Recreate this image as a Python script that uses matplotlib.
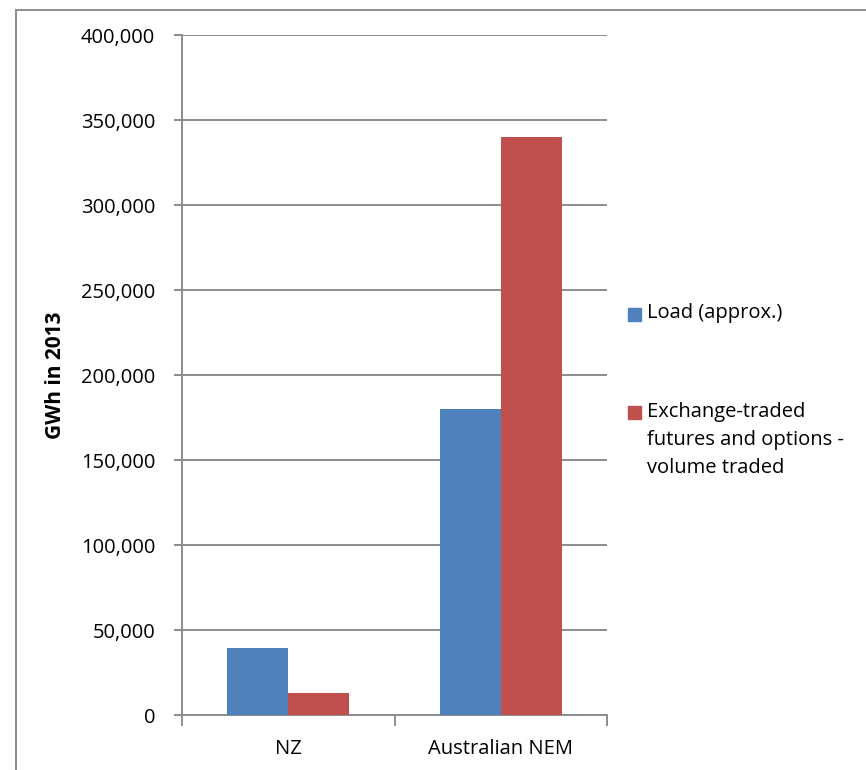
import matplotlib.pyplot as plt
from matplotlib.patches import Rectangle
from matplotlib.ticker import FuncFormatter, MultipleLocator
import numpy as np

plt.rcParams['font.family'] = ['Open Sans', 'DejaVu Sans']

markets = ["NZ", "Australian NEM"]
load_gwh = [39500, 180000]
traded_gwh = [13500, 340000]
series_names = ["Load (approx.)", "Exchange-traded\nfutures and options -\nvolume traded"]
colors = ["#4F81BD", "#C0504D"]
grid_col = "#8C8C8C"
fs = 14.5

fig = plt.figure(figsize=(8.66, 7.70), dpi=100)
ax = fig.add_axes([0.2098, 0.0708, 0.4915, 0.8837])

x = np.arange(len(markets))
w = 0.286
ax.bar(x - w / 2, load_gwh, w, color=colors[0], zorder=3)
ax.bar(x + w / 2, traded_gwh, w, color=colors[1], zorder=3)

ax.set_xlim(-0.5, 1.5)
ax.set_ylim(0, 400000)
ax.yaxis.set_major_locator(MultipleLocator(50000))
ax.yaxis.set_major_formatter(FuncFormatter(lambda v, _: f"{v:,.0f}"))
ax.grid(axis="y", color=grid_col, linewidth=1.4, zorder=0)

# category ticks sit between the groups, labels centred under each group
ax.set_xticks([-0.5, 0.5, 1.5])
ax.set_xticklabels([])
ax.set_xticks(x, minor=True)
ax.set_xticklabels(markets, minor=True, fontsize=fs)
ax.tick_params(axis="x", which="major", length=8, width=1.4, color=grid_col, direction="out")
ax.tick_params(axis="x", which="minor", length=0, pad=17)
ax.tick_params(axis="y", length=6, width=1.4, color=grid_col, labelsize=fs, pad=13)

for side in ["top", "right"]:
    ax.spines[side].set_visible(False)
for side in ["left", "bottom"]:
    ax.spines[side].set_color(grid_col)
    ax.spines[side].set_linewidth(1.4)

ax.set_ylabel("GWh in 2013", fontsize=15, fontweight="bold", labelpad=11)

# legend drawn by hand: marker squares next to wrapped labels
W, H = 866, 770
markers_y = [314, 412]
label_mid = [313, 440]
for my, ty, label, col in zip(markers_y, label_mid, series_names, colors):
    fig.patches.append(Rectangle((628 / W, 1 - (my + 6.5) / H), 13 / W, 13 / H,
                                 transform=fig.transFigure, color=col))
    fig.text(647 / W, 1 - ty / H, label, fontsize=fs, va="center",
             ha="left", linespacing=1.55)

# outer chart frame
fig.patches.append(Rectangle((15.5 / W, -0.1), 1.2, 1.1 - 10 / H, fill=False,
                             edgecolor=grid_col, linewidth=1.4,
                             transform=fig.transFigure))

fig.savefig("out.png", dpi=100)
